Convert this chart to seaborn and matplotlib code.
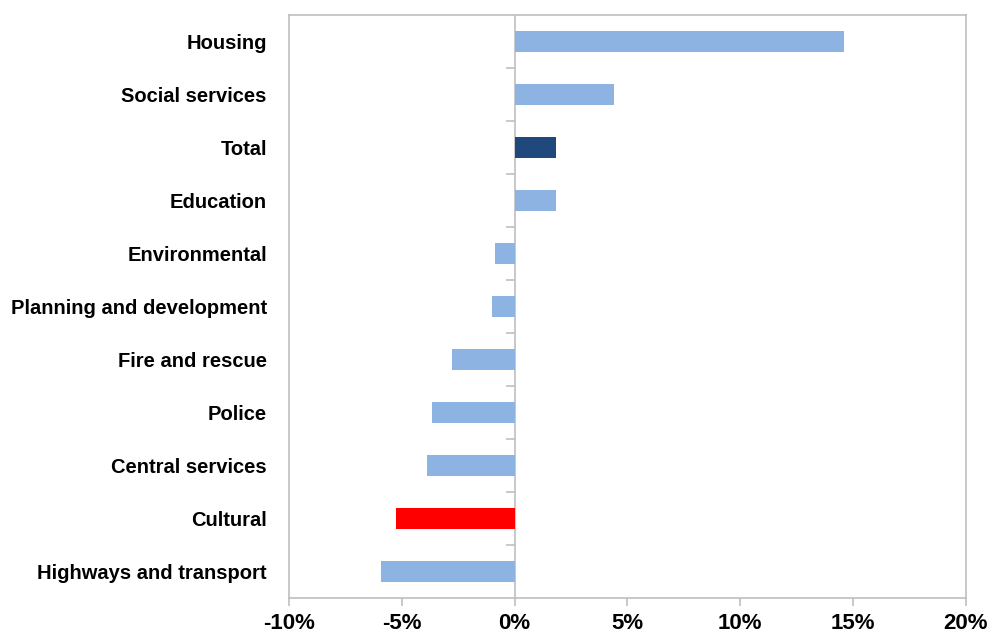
"""Change in spending by service, horizontal bar chart."""

import matplotlib

matplotlib.use("Agg")
import matplotlib.pyplot as plt
import matplotlib.ticker as mticker
import pandas as pd
import seaborn as sns

services = [
    "Housing",
    "Social services",
    "Total",
    "Education",
    "Environmental",
    "Planning and development",
    "Fire and rescue",
    "Police",
    "Central services",
    "Cultural",
    "Highways and transport",
]
change_pct = [14.6, 4.4, 1.85, 1.85, -0.87, -1.0, -2.78, -3.68, -3.9, -5.24, -5.91]
bar_group = ["service", "service", "total", "service", "service", "service",
             "service", "service", "service", "highlight", "service"]
group_colors = {"service": "#8DB3E2", "total": "#1F497D", "highlight": "#FF0000"}
x_ticks = [-10, -5, 0, 5, 10, 15, 20]

df = pd.DataFrame({"service": services, "change": change_pct, "group": bar_group})

sns.set_style("white")
plt.rcParams["font.family"] = ["Liberation Sans", "DejaVu Sans"]
grey = "#BFBFBF"

fig = plt.figure(figsize=(9.88, 6.39), dpi=100)
ax = fig.add_axes([0.2925, 0.0642, 0.6849, 0.9123])

sns.barplot(data=df, x="change", y="service", hue="group", palette=group_colors,
            order=services, width=0.39, dodge=False, legend=False, ax=ax,
            saturation=1, linewidth=0)

ax.set_xlim(x_ticks[0], x_ticks[-1])
ax.set_ylim(len(services) - 0.5, -0.5)
ax.set_xticks(x_ticks)
ax.xaxis.set_major_formatter(mticker.FuncFormatter(lambda v, _: f"{v:.0f}%"))
ax.set_xlabel("")
ax.set_ylabel("")

for spine in ax.spines.values():
    spine.set_visible(True)
    spine.set_color(grey)
    spine.set_linewidth(1.2)

ax.axvline(0, color=grey, linewidth=1.2, zorder=0)
# category separator ticks on the zero line
ax.hlines([i + 0.5 for i in range(len(services) - 1)], -0.37, 0,
          color=grey, linewidth=1.2)

ax.tick_params(axis="x", direction="out", length=5.5, width=1.2, color=grey,
               labelsize=16, pad=5, bottom=True, labelcolor="black")
ax.tick_params(axis="y", length=0, labelsize=14.5, pad=16, labelcolor="black")
for lbl in ax.get_xticklabels() + ax.get_yticklabels():
    lbl.set_fontweight("bold")

fig.savefig("out.png", dpi=100)
plt.close(fig)
